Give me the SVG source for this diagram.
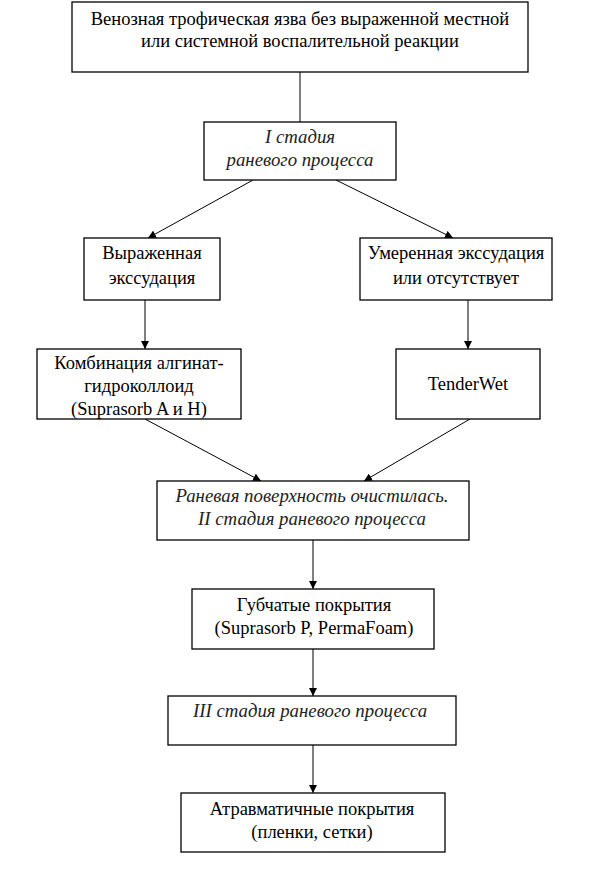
<svg xmlns="http://www.w3.org/2000/svg" width="613" height="890" viewBox="0 0 613 890">
<style>
.box{fill:#fff;stroke:#000;stroke-width:1.3}
.t{font-family:'Liberation Serif','DejaVu Serif',serif;font-size:18.5px;fill:#000;text-anchor:middle}
.i{font-family:'Liberation Serif','DejaVu Serif',serif;font-size:18.8px;font-style:italic;fill:#222;text-anchor:middle}
.c{stroke:#000;stroke-width:1;fill:none}
</style>
<defs>
<marker id="ah" viewBox="0 0 10 10" refX="10" refY="5" markerWidth="8" markerHeight="8" markerUnits="userSpaceOnUse" orient="auto">
<path d="M0,0 L10,5 L0,10 z" fill="#000"/>
</marker>
</defs>
<g id="connectors">
<line class="c" x1="300" y1="72" x2="300" y2="122"/>
<line class="c" x1="253" y1="180" x2="148" y2="238" marker-end="url(#ah)"/>
<line class="c" x1="336" y1="180" x2="453" y2="238" marker-end="url(#ah)"/>
<line class="c" x1="145" y1="300" x2="145" y2="349" marker-end="url(#ah)"/>
<line class="c" x1="468" y1="300" x2="468" y2="349" marker-end="url(#ah)"/>
<line class="c" x1="145" y1="419" x2="261" y2="481" marker-end="url(#ah)"/>
<line class="c" x1="470" y1="419" x2="364" y2="481" marker-end="url(#ah)"/>
<line class="c" x1="313" y1="540" x2="313" y2="589" marker-end="url(#ah)"/>
<line class="c" x1="313" y1="649" x2="313" y2="696" marker-end="url(#ah)"/>
<line class="c" x1="313" y1="745" x2="313" y2="793" marker-end="url(#ah)"/>
</g>
<g id="n1"><rect class="box" x="72" y="2" width="456" height="70"/>
<text class="t" x="300" y="25">Венозная трофическая язва без выраженной местной</text>
<text class="t" x="300" y="47">или системной воспалительной реакции</text></g>
<g id="n2"><rect class="box" x="204" y="122" width="192" height="58"/>
<text class="i" x="300" y="143">I стадия</text>
<text class="i" x="300" y="166">раневого процесса</text></g>
<g id="n3"><rect class="box" x="84" y="238" width="136" height="62"/>
<text class="t" x="152" y="259">Выраженная</text>
<text class="t" x="152" y="284">экссудация</text></g>
<g id="n4"><rect class="box" x="360" y="238" width="192" height="62"/>
<text class="t" x="456" y="259">Умеренная экссудация</text>
<text class="t" x="456" y="284">или отсутствует</text></g>
<g id="n5"><rect class="box" x="37" y="349" width="204" height="70"/>
<text class="t" x="139" y="369">Комбинация алгинат-</text>
<text class="t" x="139" y="392">гидроколлоид</text>
<text class="t" x="139" y="415">(Suprasorb A и H)</text></g>
<g id="n6"><rect class="box" x="396" y="349" width="144" height="70"/>
<text class="t" x="468" y="390">TenderWet</text></g>
<g id="n7"><rect class="box" x="157" y="481" width="312" height="59"/>
<text class="i" x="312" y="502">Раневая поверхность очистилась.</text>
<text class="i" x="312" y="525">II стадия раневого процесса</text></g>
<g id="n8"><rect class="box" x="192" y="589" width="242" height="60"/>
<text class="t" x="314" y="611">Губчатые покрытия</text>
<text class="t" x="314" y="634">(Suprasorb P, PermaFoam)</text></g>
<g id="n9"><rect class="box" x="168" y="696" width="288" height="49"/>
<text class="i" x="310" y="717">III стадия раневого процесса</text></g>
<g id="n10"><rect class="box" x="181" y="793" width="264" height="59"/>
<text class="t" x="312" y="815">Атравматичные покрытия</text>
<text class="t" x="312" y="838">(пленки, сетки)</text></g>
</svg>
